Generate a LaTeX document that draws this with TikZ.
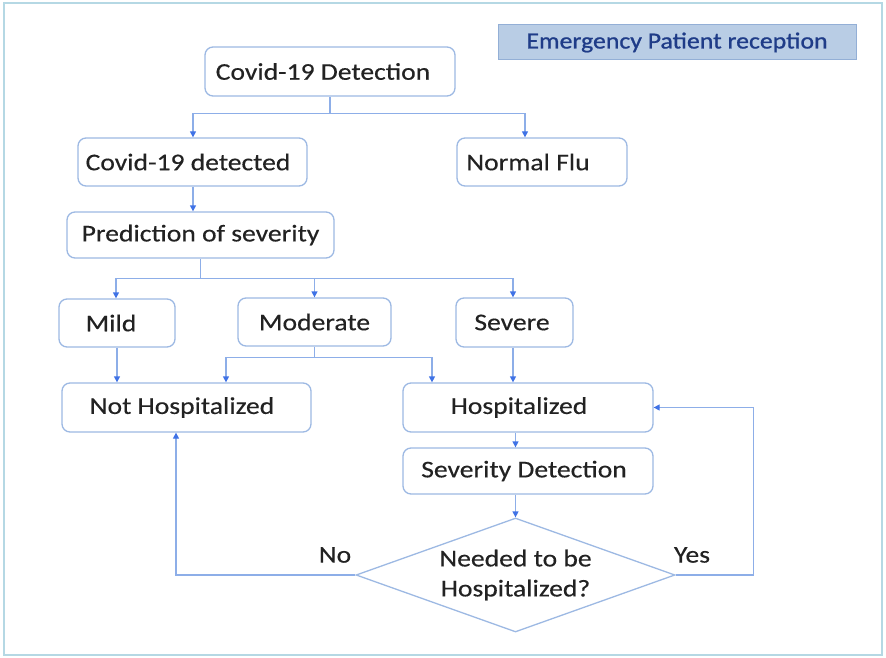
\documentclass[tikz,border=0pt]{standalone}
\usepackage{fontspec}
\setmainfont{Carlito}[FakeStretch=1.15, FakeBold=0.35]
\newfontfamily\titlefont{Carlito}[FakeStretch=1.12, FakeBold=0.9]
\usetikzlibrary{arrows.meta,shapes.geometric,calc}
\definecolor{boxc}{HTML}{9DB9E3}
\definecolor{linec}{HTML}{8DAEE8}
\definecolor{tipc}{HTML}{3F72E6}
\definecolor{txtc}{HTML}{222222}
\definecolor{titlefill}{HTML}{B9CDE5}
\definecolor{titledraw}{HTML}{93AFD6}
\definecolor{titletxt}{HTML}{1F3C88}
\definecolor{framec}{HTML}{B5D8E4}
\newcommand{\lft}[2]{\kern-#1pt #2}
\begin{document}
\begin{tikzpicture}[x=1pt,y=-1pt,
  box/.style={draw=boxc, line width=1.3pt, rounded corners=8pt, fill=white,
    text=txtc, font=\fontsize{24}{28}\selectfont, inner sep=0pt},
  conn/.style={draw=linec, line width=1.3pt, -{Triangle[length=6pt,width=6pt,color=tipc]}},
  plain/.style={draw=linec, line width=1.3pt},
  lbl/.style={text=txtc, font=\fontsize{24}{28}\selectfont, inner sep=0pt}]
\useasboundingbox (0,0) rectangle (886,658);
\draw[framec, line width=1.2pt] (4,3) rectangle (882,655);
\node[draw=titledraw, fill=titlefill, line width=1pt, text=titletxt,
  font=\titlefont\fontsize{23}{28}\selectfont, minimum width=358pt, minimum height=35pt, inner sep=0pt]
  (title) at (677,42.5) {Emergency Patient reception};
\node[box, minimum width=250pt, minimum height=49pt] (cd) at (330,71.5) {\lft{14}{Covid-19 Detection}};
\node[box, minimum width=229pt, minimum height=48pt] (cdet) at (192.5,162) {\lft{9}{Covid-19 detected}};
\node[box, minimum width=170pt, minimum height=48pt] (nf) at (542,162) {\lft{28}{Normal Flu}};
\node[box, minimum width=267pt, minimum height=46pt] (pred) at (200.5,235) {Prediction of severity};
\node[box, minimum width=116pt, minimum height=48pt] (mild) at (117,323) {\lft{12}{Mild}};
\node[box, minimum width=153pt, minimum height=48pt] (mod) at (314.5,322) {Moderate};
\node[box, minimum width=117pt, minimum height=49pt] (sev) at (514.5,322.5) {\lft{5}{Severe}};
\node[box, minimum width=249pt, minimum height=49pt] (nh) at (186.5,407.5) {\lft{9}{Not Hospitalized}};
\node[box, minimum width=250pt, minimum height=49pt] (hosp) at (528,407.5) {\lft{18}{Hospitalized}};
\node[box, minimum width=250pt, minimum height=46pt] (sd) at (528,471) {\lft{8}{Severity Detection}};
\node[diamond, shape aspect=2.8, draw=boxc, line width=1.3pt, fill=white, text=txtc, align=center,
  font=\fontsize{24}{30}\selectfont, minimum width=319pt, minimum height=114pt, inner sep=0pt]
  (dia) at (515.5,575) {Needed to be\\Hospitalized?};
\node[lbl] (no) at (335,555) {No};
\node[lbl] (yes) at (692,555) {Yes};
% connectors
\coordinate (j1) at ($(cd.south)+(0,17)$);
\draw[plain] (cd.south) -- (j1);
\draw[conn] (j1) -| ([xshift=0.5pt]cdet.north);
\draw[conn] (j1) -| ([xshift=-17pt]nf.north);
\draw[conn] ([xshift=0.5pt]cdet.south) -- ([xshift=0.5pt]cdet.south |- pred.north);
\coordinate (j2) at ($(pred.south)+(0,20)$);
\draw[plain] (pred.south) -- (j2);
\draw[conn] (j2) -| ([xshift=-1pt]mild.north);
\draw[conn] (j2) -| (mod.north);
\draw[conn] (j2) -| ([xshift=-1.5pt]sev.north);
\draw[conn] (mild.south) -- (mild.south |- nh.north);
\coordinate (j3) at ($(mod.south)+(0,11)$);
\draw[plain] (mod.south) -- (j3);
\draw[conn] (j3) -| ([xshift=39.5pt]nh.north);
\draw[conn] (j3) -| ([xshift=-96pt]hosp.north);
\draw[conn] ([xshift=-1.5pt]sev.south) -- ([xshift=-1.5pt]sev.south |- hosp.north);
\draw[conn] (dia.north |- hosp.south) -- (dia.north |- sd.north);
\draw[conn] (dia.north |- sd.south) -- (dia.north);
\draw[conn] (dia.west) -| ([xshift=-10.5pt]nh.south);
\draw[conn] (dia.east) -- ++(78,0) |- (hosp.east);
\end{tikzpicture}
\end{document}
